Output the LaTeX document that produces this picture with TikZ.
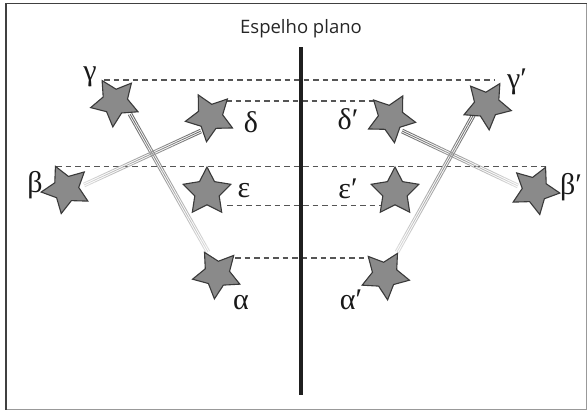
\documentclass[tikz,border=0pt]{standalone}
\usepackage{fontspec}
\setmainfont{Liberation Serif}
\newfontfamily\labfont{Open Sans}
\newfontfamily\grfont{Liberation Serif}
\usetikzlibrary{shapes.geometric,calc}
\definecolor{starfill}{HTML}{8A8A8A}
\definecolor{stardraw}{HTML}{3A3A3A}
\definecolor{dashcol}{HTML}{555555}
\tikzset{
  starnode/.style={star, star points=5, star point ratio=1.95, minimum size=50pt, inner sep=0pt, fill=starfill, draw=stardraw, line width=1.1pt},
  dashline/.style={draw=dashcol, line width=1.7pt, dash pattern=on 5.5pt off 4pt},
  trailline/.style={line width=0.9pt, line cap=butt},
  greek/.style={font=\grfont\fontsize{30}{34}\selectfont, text=black!90, inner sep=0pt},
}
\newcommand\trail[2]{%
 \foreach \i in {0,...,23}{%
  \pgfmathsetmacro\ta{\i/24}\pgfmathsetmacro\tb{(\i+1)/24}%
  \pgfmathsetmacro\pc{58-\i*1.9}%
  \coordinate (P) at ($(#1)!\ta!(#2)$);
  \coordinate (Q) at ($(#1)!\tb!(#2)$);
  \draw[trailline, draw=black!\pc] ($(P)!1.9pt!90:(Q)$) -- ($(Q)!1.9pt!-90:(P)$);
  \draw[trailline, draw=black!\pc] (P) -- (Q);
  \draw[trailline, draw=black!\pc] ($(P)!1.9pt!-90:(Q)$) -- ($(Q)!1.9pt!90:(P)$);
 }}
\begin{document}
\begin{tikzpicture}[x=1pt,y=-1pt]
\useasboundingbox (0,0) rectangle (587,410);
% frame
\draw[black!40, line width=0.8pt] (586.5,3.5) -- (586.5,409.2) -- (6,409.2);
\draw[black!75, line width=1.6pt] (6,410) -- (6,3.5) -- (587,3.5);
% title and mirror
\node[font=\labfont\fontsize{18.5}{22}\selectfont, text=black!85] (title) at (301,29) {Espelho plano};
\coordinate (mt) at (301,47);
\coordinate (mb) at (301,395);
% dashed lines
\draw[dashline] (104,80) -- (495,80);
\draw[dashline] (226,101) -- (377,101);
\draw[dashline] (56,166.5) -- (546,166.5);
\draw[dashline] (227,205.5) -- (383,205.5);
\draw[dashline] (235,258) -- (370,258);
\draw[black!88, line width=3.6pt] (mt) -- (mb);
% trail end points
\coordinate (tgA) at (130,114);
\coordinate (taA) at (208,252);
\coordinate (tdA) at (201,131);
\coordinate (tbA) at (84,185);
\coordinate (tgB) at (474,114);
\coordinate (taB) at (397,252);
\coordinate (tdB) at (402,131);
\coordinate (tbB) at (518,186);
\trail{tgA}{taA}
\trail{tdA}{tbA}
\trail{tgB}{taB}
\trail{tdB}{tbB}
% stars left
\node[starnode, shape border rotate=31] (g) at (115,102) {};
\node[starnode, shape border rotate=28] (d) at (210,117) {};
\node[starnode, shape border rotate=25] (b) at (66,189) {};
\node[starnode, shape border rotate=0] (e) at (207,192) {};
\node[starnode, shape border rotate=30] (a) at (217,274) {};
% stars right
\node[starnode, shape border rotate=-31] (g2) at (487,105) {};
\node[starnode, shape border rotate=-28] (d2) at (391,118) {};
\node[starnode, shape border rotate=-25] (b2) at (535,190) {};
\node[starnode, shape border rotate=0] (e2) at (395,192) {};
\node[starnode, shape border rotate=-30] (a2) at (385,275) {};
% labels
\node[greek] (lg) at (90,77) {γ};
\node[greek] (ld) at (251,122) {δ};
\node[greek] (lb) at (35,185) {β};
\node[greek] (le) at (244,191) {ε};
\node[greek] (la) at (241,303) {α};
\node[greek] (lg2) at (517,82) {γ′};
\node[greek] (ld2) at (348,119) {δ′};
\node[greek] (lb2) at (571,187) {β′};
\node[greek] (le2) at (348,189) {ε′};
\node[greek] (la2) at (351,300) {α′};
\end{tikzpicture}
\end{document}
